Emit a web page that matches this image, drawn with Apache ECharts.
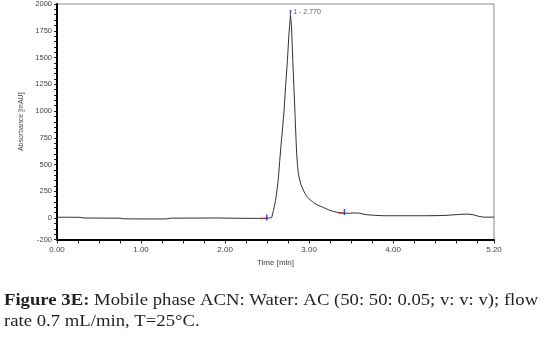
<!DOCTYPE html>
<html>
<head>
<meta charset="utf-8">
<script src="https://cdn.jsdelivr.net/npm/echarts@6/dist/echarts.min.js"></script>
<style>
html,body{margin:0;padding:0;background:#fff;}
#c{width:544px;height:345px;}
</style>
</head>
<body>
<div id="c"></div>
<script>
// Chromatogram trace: time [min] and absorbance [mAU]
var times = [0, 0.05, 0.15, 0.27, 0.32, 0.5, 0.75, 0.8, 1.0, 1.3, 1.35, 1.6, 1.9, 2.2, 2.4, 2.48, 2.52, 2.555, 2.575, 2.60, 2.62, 2.635, 2.65, 2.667, 2.685, 2.702, 2.72, 2.742, 2.76, 2.778, 2.79, 2.806, 2.82, 2.833, 2.845, 2.853, 2.862, 2.872, 2.885, 2.9, 2.92, 2.95, 2.97, 3.0, 3.05, 3.1, 3.17, 3.23, 3.29, 3.35, 3.41, 3.47, 3.53, 3.59, 3.64, 3.69, 3.78, 3.88, 4.0, 4.2, 4.4, 4.6, 4.68, 4.75, 4.82, 4.9, 4.96, 5.02, 5.08, 5.14, 5.2];
var absorbance = [7, 8, 8, 7, 1, 0, -1, -7, -8, -8, -1, 0, 1, -2, -3, -3, -1, 6, 68, 162, 270, 380, 530, 693, 850, 1005, 1230, 1473, 1720, 1894, 1800, 1473, 1200, 958, 720, 590, 490, 420, 365, 320, 280, 230, 205, 180, 146, 122, 99, 78, 62, 52, 47, 45, 48, 47, 38, 31, 26, 22, 22, 22, 22, 24, 28, 32, 36, 37, 30, 16, 9, 9, 9];

// Integration markers (start / end of peak) and apex
var markerTimes = [2.496, 3.42];
var markerValues = [-3, 47];
var apexTime = 2.778;
var apexValue = 1894;
var apexLabel = '1 - 2.770';

// Axis labels
var yLabelValues = [-200, 0, 250, 500, 750, 1000, 1250, 1500, 1750, 2000];
var xLabelValues = [0, 1, 2, 3, 4, 5.2];

var xAxisName = 'Time [min]';
var yAxisName = 'Absorbance [mAU]';
var captionBold = 'Figure 3E:';
var captionLine1 = ' Mobile phase ACN: Water: AC (50: 50: 0.05; v: v: v); flow';
var captionLine2 = 'rate 0.7 mL/min, T=25°C.';

var trace = times.map(function (t, i) { return [t, absorbance[i]]; });
var markers = markerTimes.map(function (t, i) { return [t, markerValues[i]]; });

function isLabelX(v) {
  for (var i = 0; i < xLabelValues.length; i++) {
    if (Math.abs(v - xLabelValues[i]) < 1e-6) return true;
  }
  return false;
}
function isLabelY(v) {
  for (var i = 0; i < yLabelValues.length; i++) {
    if (Math.abs(v - yLabelValues[i]) < 1e-6) return true;
  }
  return false;
}

var axisFont = 'Liberation Sans, Arial, sans-serif';
var serif = '"Liberation Serif", serif';
var chart = echarts.init(document.getElementById('c'), null, {renderer: 'canvas'});
chart.setOption({
  animation: false,
  backgroundColor: '#ffffff',
  grid: {left: 57, right: 50, top: 3.5, height: 236, show: true, borderColor: '#8a8a8a', borderWidth: 1},
  xAxis: {
    type: 'value', min: 0, max: 5.2, interval: 0.25,
    name: xAxisName, nameLocation: 'middle', nameGap: 17,
    nameTextStyle: {fontFamily: axisFont, fontSize: 8, color: '#444'},
    axisLine: {show: true, onZero: false, lineStyle: {color: '#000', width: 2}},
    axisTick: {show: true, length: 4, lineStyle: {color: '#222', width: 1}},
    axisLabel: {
      interval: 0, showMaxLabel: true, showMinLabel: true, margin: 6,
      fontFamily: axisFont, fontSize: 8, color: '#444',
      formatter: function (v) { return isLabelX(v) ? v.toFixed(2) : ''; }
    },
    splitLine: {show: false}
  },
  yAxis: {
    type: 'value', min: -200, max: 2000, interval: 50,
    name: yAxisName, nameLocation: 'middle', nameGap: 21, nameRotate: 90,
    nameTextStyle: {fontFamily: axisFont, fontSize: 7, color: '#444'},
    axisLine: {show: true, onZero: false, lineStyle: {color: '#000', width: 2}},
    axisTick: {show: true, length: 3, lineStyle: {color: '#222', width: 1}},
    axisLabel: {
      interval: 0, showMaxLabel: true, showMinLabel: true, margin: 5,
      fontFamily: axisFont, fontSize: 7.5, color: '#444',
      formatter: function (v) { return isLabelY(v) ? String(v) : ''; }
    },
    splitLine: {show: false}
  },
  series: [
    {
      type: 'line', data: trace, showSymbol: false, symbol: 'none',
      lineStyle: {color: '#333', width: 1}, z: 3
    },
    {
      type: 'scatter', data: markers, symbol: 'rect', symbolSize: [7, 1.5], symbolOffset: [-3, 0],
      itemStyle: {color: '#e0201b'}, z: 4, silent: true
    },
    {
      type: 'scatter', data: markers, symbol: 'rect', symbolSize: [1.5, 6], symbolOffset: [0, -1],
      itemStyle: {color: '#1a1aff'}, z: 5, silent: true
    },
    {
      type: 'scatter', data: [[apexTime, apexValue]], symbol: 'rect', symbolSize: [1.5, 5], symbolOffset: [0, -3],
      itemStyle: {color: '#1a1aff'}, z: 5, silent: true,
      label: {show: true, position: 'right', distance: 2, offset: [0, 0], formatter: apexLabel,
        fontFamily: axisFont, fontSize: 7, color: '#333'}
    }
  ],
  graphic: [
    {
      type: 'text', x: 4, y: 292, scaleX: 1.1, scaleY: 1,
      style: {
        text: '{b|' + captionBold + '}' + captionLine1,
        font: '17px ' + serif, fill: '#231f20', textVerticalAlign: 'top',
        rich: {b: {fontWeight: 'bold', fontFamily: 'Liberation Serif', fontSize: 17, fill: '#231f20'}}
      }
    },
    {
      type: 'text', x: 4, y: 313, scaleX: 1.1, scaleY: 1,
      style: {text: captionLine2, font: '17px ' + serif, fill: '#231f20', textVerticalAlign: 'top'}
    }
  ]
});
</script>
</body>
</html>
